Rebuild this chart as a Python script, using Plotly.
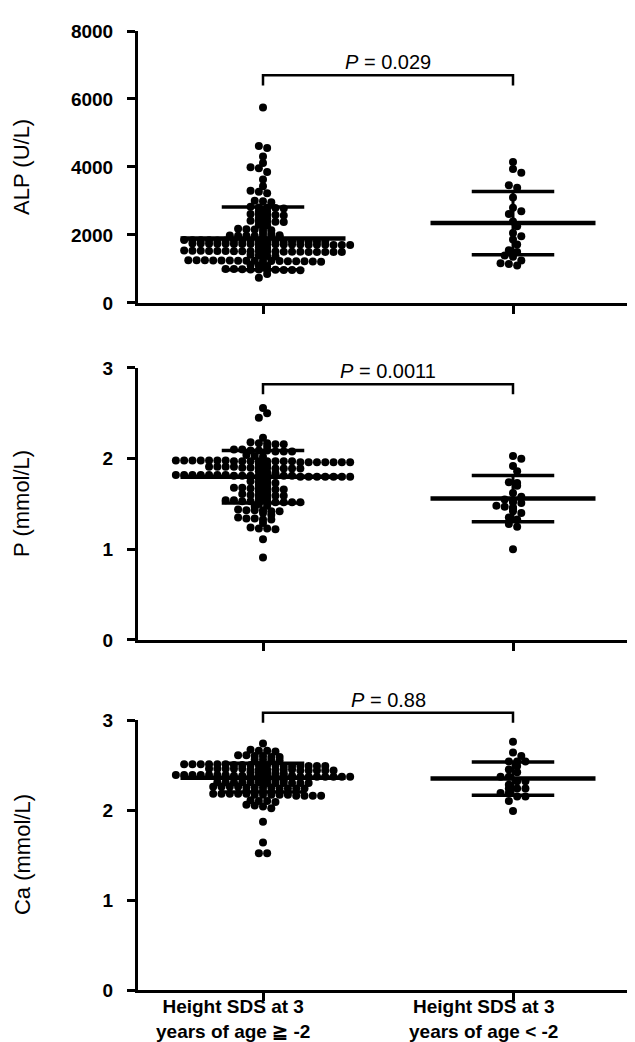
import numpy as np
import plotly.graph_objects as go

# ---------------- data ----------------
groups = ["Height SDS at 3<br>years of age ≧ -2", "Height SDS at 3<br>years of age < -2"]

alp_g1 = [
    5750, 4620, 4560, 4310, 4120, 3990, 3960, 3850, 3630, 3430, 3300, 3270, 3230, 3010, 2990, 2960,
    2830, 2810, 2800, 2790, 2780,
    2700, 2690,
    2620, 2610, 2600, 2590, 2570,
    2500, 2490,
    2420, 2410, 2400, 2390, 2380,
    2300, 2280,
    2180, 2170, 2160, 2150, 2140,
    2060, 2040,
    1990, 1985, 1980, 1975, 1970, 1965, 1960, 1950,
    1850, 1848, 1845, 1842, 1840, 1838, 1835, 1832, 1830, 1828, 1825, 1822, 1820, 1818, 1815, 1812, 1810, 1808,
    1750, 1748, 1745, 1742, 1740, 1738, 1735, 1732, 1730, 1728, 1725, 1722, 1720, 1718, 1715, 1712, 1710,
    1708, 1706, 1704,
    1630, 1620,
    1540, 1538, 1535, 1532, 1530, 1528, 1525, 1522, 1520, 1518, 1515, 1512, 1510, 1508, 1505, 1503,
    1502, 1501, 1500, 1499,
    1420, 1400, 1380, 1370,
    1260, 1257, 1255, 1252, 1250, 1247, 1245, 1242, 1240, 1237, 1235, 1232, 1230, 1227, 1225, 1220, 1215,
    1120, 1100, 1090,
    1000, 996, 992, 988, 984, 980, 976, 972, 968, 960,
    850, 740,
]
alp_g2 = [4150, 3940, 3830, 3460, 3390, 3100, 2800, 2700, 2620, 2400, 2260, 2060,
          1960, 1870, 1720, 1550, 1500, 1400, 1360, 1250, 1170, 1150, 1100]

p_g1 = [
    2.56, 2.50, 2.45, 2.23,
    2.18, 2.17, 2.17, 2.16, 2.16, 2.13,
    2.10, 2.10, 2.09, 2.09, 2.09, 2.08, 2.08, 2.08,
    2.04, 2.03, 2.02,
    1.98, 1.98, 1.98, 1.98, 1.98, 1.98, 1.98, 1.97, 1.97, 1.97, 1.97, 1.97, 1.97, 1.97, 1.97,
    1.96, 1.96, 1.96, 1.96, 1.96, 1.96, 1.96,
    1.94, 1.93,
    1.91, 1.91, 1.91, 1.91, 1.90, 1.90, 1.90, 1.90, 1.89, 1.89, 1.89, 1.89,
    1.86, 1.85, 1.84,
    1.82, 1.82, 1.82, 1.82, 1.82, 1.82, 1.82, 1.81, 1.81, 1.81, 1.81, 1.81, 1.81, 1.81, 1.81,
    1.80, 1.80, 1.80, 1.80, 1.80, 1.80, 1.80,
    1.78, 1.77,
    1.75, 1.74, 1.74, 1.73, 1.71, 1.70,
    1.68, 1.68, 1.67, 1.67, 1.67, 1.66, 1.66, 1.64, 1.63,
    1.61, 1.60, 1.60, 1.60, 1.59, 1.59, 1.57, 1.56,
    1.54, 1.54, 1.53, 1.53, 1.53, 1.53, 1.52, 1.52, 1.52, 1.52, 1.50,
    1.48, 1.47,
    1.44, 1.43, 1.43, 1.43, 1.42, 1.42, 1.40, 1.38,
    1.35, 1.34, 1.34, 1.33, 1.33, 1.29,
    1.24, 1.23, 1.23, 1.22,
    1.11, 0.91,
]
p_g2 = [2.03, 2.00, 1.92, 1.86, 1.74, 1.73, 1.70, 1.62, 1.58, 1.55, 1.53, 1.52,
        1.51, 1.48, 1.47, 1.46, 1.45, 1.42, 1.40, 1.35, 1.33, 1.28, 1.25, 1.00]

ca_g1 = [
    2.74,
    2.67, 2.66, 2.66, 2.65,
    2.61, 2.61, 2.60, 2.60, 2.59, 2.59,
    2.56, 2.56, 2.55, 2.55,
    2.51, 2.51, 2.51, 2.51, 2.51, 2.51, 2.50, 2.50, 2.50, 2.50, 2.50, 2.50, 2.49, 2.49, 2.49, 2.49, 2.49, 2.49,
    2.46, 2.46, 2.46, 2.46, 2.46, 2.45, 2.45, 2.45, 2.45, 2.45, 2.45, 2.44, 2.44, 2.44, 2.44, 2.44,
    2.42, 2.42, 2.42, 2.41, 2.41,
    2.39, 2.39, 2.39, 2.39, 2.39, 2.39, 2.39, 2.38, 2.38, 2.38, 2.38, 2.38, 2.38, 2.38, 2.38,
    2.37, 2.37, 2.37, 2.37, 2.37, 2.37, 2.37,
    2.34, 2.34, 2.34, 2.33, 2.33,
    2.31, 2.31, 2.31, 2.31, 2.31, 2.31, 2.30, 2.30, 2.30, 2.30, 2.30, 2.30,
    2.26, 2.26, 2.26, 2.26, 2.25, 2.25, 2.25, 2.25, 2.24, 2.24, 2.24, 2.24,
    2.21, 2.21, 2.21, 2.20, 2.20,
    2.18, 2.18, 2.18, 2.18, 2.18, 2.17, 2.17, 2.17, 2.17, 2.17, 2.16, 2.16, 2.16, 2.16,
    2.11, 2.10, 2.10, 2.09,
    2.06, 2.05, 2.04, 2.02,
    1.87, 1.64, 1.52, 1.52,
]
ca_g2 = [2.76, 2.64, 2.60, 2.54, 2.54, 2.54, 2.49, 2.45, 2.42, 2.37, 2.37, 2.32,
         2.32, 2.28, 2.24, 2.24, 2.24, 2.19, 2.19, 2.15, 2.15, 2.10, 1.99]

# mean and SD lines
alp_mean = [1900, 2350]
alp_sd = [920, 930]
p_mean = [1.80, 1.56]
p_sd = [0.29, 0.255]
ca_mean = [2.36, 2.35]
ca_sd = [0.16, 0.185]

p_texts = ["0.029", "0.0011", "0.88"]
y_titles = ["ALP (U/L)", "P (mmol/L)", "Ca (mmol/L)"]
y_ranges = [[0, 8000], [0, 3], [0, 3]]
y_ticks = [[0, 2000, 4000, 6000, 8000], [0, 1, 2, 3], [0, 1, 2, 3]]
bracket_top = [6700, 2.82, 3.08]
bracket_drop = [6400, 2.71, 2.97]

# ---------------- layout geometry ----------------
W, H = 635, 1042
ML, MR, MT, MB = 130, 5, 23, 60
domains = [[0.7164, 1.0], [0.365, 0.6486], [0.0, 0.2815]]
XR = [-0.5, 1.5]
DOT = 8
FONT = "Liberation Sans, Arial, Helvetica, sans-serif"

plot_w = W - ML - MR
plot_h = H - MT - MB
px_per_x = plot_w / (XR[1] - XR[0])


def row_layout(values, px_per_y, d=8.3, row_h=2.5):
    """Prism-like scatter dot layout: close values share a horizontal row."""
    vals = np.asarray(values, dtype=float)
    order = np.argsort(-vals, kind="stable")
    rows, cur, anchor = [], [], None
    for i in order:
        y = vals[i] * px_per_y
        if anchor is None or anchor - y > row_h:
            if cur:
                rows.append(cur)
            cur, anchor = [], y
        cur.append(i)
    if cur:
        rows.append(cur)
    out = np.zeros(len(vals))
    placed = []
    for row in rows:
        n = len(row)
        base = [(j - (n - 1) / 2) * d for j in range(n)]
        ys = [vals[i] * px_per_y for i in row]
        best, best_pen = 0.0, None
        for s in (0.0, d / 2, -d / 2, d, -d):
            pen = 0
            for bx, by in zip(base, ys):
                for ax, ay in placed:
                    if (bx + s - ax) ** 2 + (by - ay) ** 2 < (0.75 * d) ** 2:
                        pen += 1
            if best_pen is None or pen < best_pen:
                best, best_pen = s, pen
        for i, bx, by in zip(row, base, ys):
            out[i] = (bx + best) / px_per_x
            placed.append((bx + best, by))
    return out


fig = go.Figure()
panels = [
    (alp_g1, alp_g2, alp_mean, alp_sd),
    (p_g1, p_g2, p_mean, p_sd),
    (ca_g1, ca_g2, ca_mean, ca_sd),
]

for k, (g1, g2, mn, sd) in enumerate(panels):
    xa = "x" if k == 0 else f"x{k+1}"
    ya = "y" if k == 0 else f"y{k+1}"
    dom = domains[k]
    px_per_y = plot_h * (dom[1] - dom[0]) / (y_ranges[k][1] - y_ranges[k][0])
    for gi, vals in enumerate([g1, g2]):
        offs = row_layout(vals, px_per_y)
        fig.add_trace(go.Scatter(
            x=gi + offs, y=vals, mode="markers", xaxis=xa, yaxis=ya,
            marker=dict(size=DOT, color="black", line=dict(width=0)),
            cliponaxis=False, showlegend=False, hoverinfo="skip"))
    mx, my = [], []
    for gi in range(2):
        mx += [gi - 0.33, gi + 0.33, None]
        my += [mn[gi], mn[gi], None]
    fig.add_trace(go.Scatter(x=mx, y=my, mode="lines", xaxis=xa, yaxis=ya,
                             line=dict(color="black", width=4.5), showlegend=False, hoverinfo="skip"))
    sx, sy = [], []
    for gi in range(2):
        for s in (-1, 1):
            sx += [gi - 0.165, gi + 0.165, None]
            sy += [mn[gi] + s * sd[gi], mn[gi] + s * sd[gi], None]
    fig.add_trace(go.Scatter(x=sx, y=sy, mode="lines", xaxis=xa, yaxis=ya,
                             line=dict(color="black", width=3.5), showlegend=False, hoverinfo="skip"))
    vx, vy = [], []
    for gi in range(2):
        vx += [gi, gi, None]
        vy += [mn[gi] - sd[gi], mn[gi] + sd[gi], None]
    fig.add_trace(go.Scatter(x=vx, y=vy, mode="lines", xaxis=xa, yaxis=ya,
                             line=dict(color="black", width=3), showlegend=False, hoverinfo="skip"))

    axis_common = dict(showline=True, linecolor="black", linewidth=3, ticks="outside",
                       ticklen=8, tickwidth=2.5, tickcolor="black", showgrid=False,
                       zeroline=False, mirror=False)
    xkey = "xaxis" if k == 0 else f"xaxis{k+1}"
    ykey = "yaxis" if k == 0 else f"yaxis{k+1}"
    fig.update_layout({
        xkey: dict(axis_common, range=XR, tickvals=[0, 1], showticklabels=False,
                   anchor=ya, domain=[0, 1]),
        ykey: dict(axis_common, range=y_ranges[k], tickvals=y_ticks[k], anchor=xa,
                   domain=dom, ticklabelstandoff=10,
                   tickfont=dict(family=FONT, size=19, color="black", weight="bold")),
    })
    ymax = y_ranges[k][1]
    t, dr = bracket_top[k] / ymax, bracket_drop[k] / ymax
    fig.add_shape(type="path", xref=xa, yref=f"{ya} domain",
                  path=f"M 0,{dr} L 0,{t} L 1,{t} L 1,{dr}",
                  line=dict(color="black", width=2.5))
    fig.add_annotation(x=0.5, y=t, xref=xa, yref=f"{ya} domain", yanchor="bottom",
                       xanchor="center", yshift=0, showarrow=False,
                       text=f"<i>P</i> = {p_texts[k]}",
                       font=dict(family=FONT, size=20, color="black"))
    fig.add_annotation(x=-0.232, y=(dom[0] + dom[1]) / 2, xref="paper", yref="paper",
                       textangle=-90, xanchor="center", yanchor="middle", showarrow=False,
                       text=y_titles[k], font=dict(family=FONT, size=22, color="black"))

for gi, lab in enumerate(groups):
    fig.add_annotation(x=gi, y=0, xref="x3", yref="paper", xanchor="center", yanchor="top",
                       xshift=-30, yshift=-4, showarrow=False, text=lab, align="center",
                       font=dict(family=FONT, size=19, color="black", weight="bold"))

fig.update_layout(width=W, height=H, margin=dict(l=ML, r=MR, t=MT, b=MB),
                  paper_bgcolor="white", plot_bgcolor="white", showlegend=False)

fig.write_html("out.html")
